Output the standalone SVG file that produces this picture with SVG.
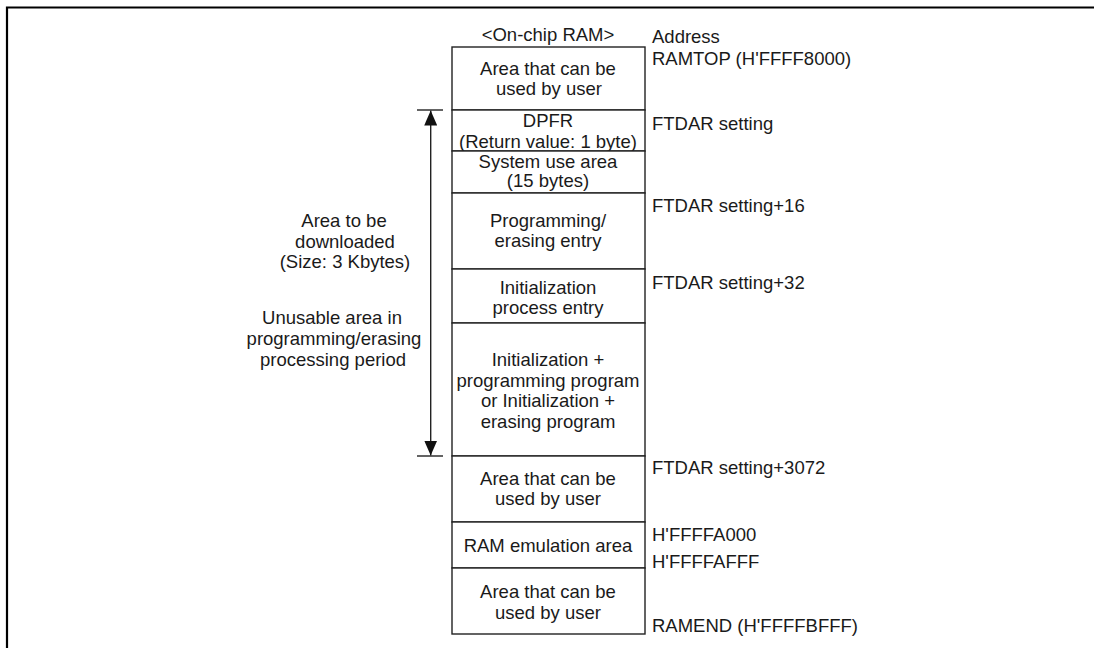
<svg xmlns="http://www.w3.org/2000/svg" width="1094" height="648" viewBox="0 0 1094 648">
  <style>
    text { font-family: "Liberation Sans", Arial, sans-serif; font-size: 18.5px; fill: #1a1a1a; }
    .c { text-anchor: middle; }
    .box { fill: #ffffff; stroke: #222222; stroke-width: 1.4; }
    .ln { stroke: #222222; stroke-width: 1.4; fill: none; }
  </style>
  <defs>
    <marker id="ah" viewBox="0 0 15 13" refX="15" refY="6.5" markerWidth="15" markerHeight="13" markerUnits="userSpaceOnUse" orient="auto">
      <path d="M0,0 L15,6.5 L0,13 Z" fill="#111111"/>
    </marker>
  </defs>
  <rect width="1094" height="648" fill="#ffffff"/>
  <path d="M7,648 V7.5 H1094" fill="none" stroke="#000000" stroke-width="2.2"/>

  <text class="c" x="548" y="41">&lt;On-chip RAM&gt;</text>

  <g id="node-user-top">
    <rect class="box" x="452" y="47" width="193" height="63"/>
    <text class="c" x="548" y="75">Area that can be</text>
    <text class="c" x="549" y="95">used by user</text>
  </g>
  <g id="node-dpfr">
    <rect class="box" x="452" y="110" width="193" height="41"/>
    <text class="c" x="548" y="127">DPFR</text>
    <text class="c" x="548" y="147.5">(Return value: 1 byte)</text>
  </g>
  <g id="node-system">
    <rect class="box" x="452" y="151" width="193" height="42"/>
    <text class="c" x="548" y="167.5">System use area</text>
    <text class="c" x="548" y="187">(15 bytes)</text>
  </g>
  <g id="node-prog-entry">
    <rect class="box" x="452" y="193" width="193" height="76"/>
    <text class="c" x="548" y="226.5">Programming/</text>
    <text class="c" x="548" y="246.5">erasing entry</text>
  </g>
  <g id="node-init-entry">
    <rect class="box" x="452" y="269" width="193" height="54"/>
    <text class="c" x="548" y="293.5">Initialization</text>
    <text class="c" x="548" y="313.5">process entry</text>
  </g>
  <g id="node-program">
    <rect class="box" x="452" y="323" width="193" height="133"/>
    <text class="c" x="548" y="366">Initialization +</text>
    <text class="c" x="548" y="386.5">programming program</text>
    <text class="c" x="548" y="407">or Initialization +</text>
    <text class="c" x="548" y="427.5">erasing program</text>
  </g>
  <g id="node-user-mid">
    <rect class="box" x="452" y="456" width="193" height="66"/>
    <text class="c" x="548" y="485">Area that can be</text>
    <text class="c" x="548" y="505">used by user</text>
  </g>
  <g id="node-ram-emu">
    <rect class="box" x="452" y="522" width="193" height="46"/>
    <text class="c" x="548" y="552">RAM emulation area</text>
  </g>
  <g id="node-user-bottom">
    <rect class="box" x="452" y="568" width="193" height="66"/>
    <text class="c" x="548" y="598">Area that can be</text>
    <text class="c" x="548" y="618.5">used by user</text>
  </g>

  <g id="addresses">
    <text x="652" y="42.5">Address</text>
    <text x="652" y="65">RAMTOP (H'FFFF8000)</text>
    <text x="652" y="130">FTDAR setting</text>
    <text x="652" y="212">FTDAR setting+16</text>
    <text x="652" y="288.5">FTDAR setting+32</text>
    <text x="652" y="474">FTDAR setting+3072</text>
    <text x="652" y="541">H'FFFFA000</text>
    <text x="652" y="568">H'FFFFAFFF</text>
    <text x="652" y="632">RAMEND (H'FFFFBFFF)</text>
  </g>

  <g id="connectors">
    <line class="ln" x1="417" y1="110" x2="443" y2="110"/>
    <line class="ln" x1="417" y1="456" x2="443" y2="456"/>
    <line class="ln" x1="430.7" y1="283" x2="430.7" y2="110.5" marker-end="url(#ah)"/>
    <line class="ln" x1="430.7" y1="283" x2="430.7" y2="455.5" marker-end="url(#ah)"/>
  </g>

  <g id="labels">
    <text class="c" x="344" y="227">Area to be</text>
    <text class="c" x="345" y="247.5">downloaded</text>
    <text class="c" x="345" y="267.5">(Size: 3 Kbytes)</text>
    <text class="c" x="332" y="324">Unusable area in</text>
    <text class="c" x="334" y="345">programming/erasing</text>
    <text class="c" x="333" y="366">processing period</text>
  </g>
</svg>
